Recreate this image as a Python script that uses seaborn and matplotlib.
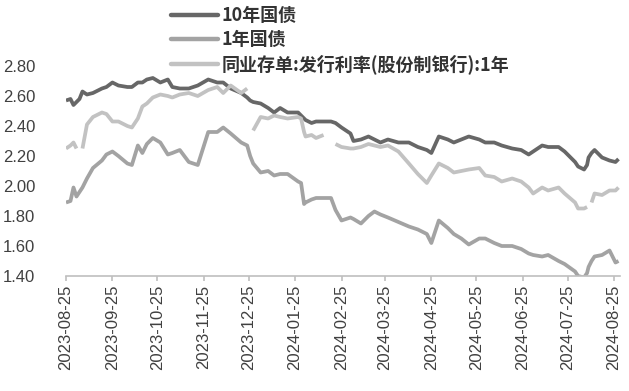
import numpy as np
import pandas as pd
import matplotlib
matplotlib.use("Agg")
import matplotlib.pyplot as plt
from matplotlib.lines import Line2D
import seaborn as sns

dates = [
    "2023-08-25", "2023-08-28", "2023-08-30", "2023-09-01", "2023-09-03", "2023-09-05",
    "2023-09-08", "2023-09-12", "2023-09-18", "2023-09-21", "2023-09-25", "2023-09-29",
    "2023-10-05", "2023-10-08", "2023-10-12", "2023-10-15", "2023-10-18", "2023-10-22",
    "2023-10-27", "2023-11-01", "2023-11-04", "2023-11-09", "2023-11-15", "2023-11-21",
    "2023-11-28", "2023-12-04", "2023-12-08", "2023-12-13", "2023-12-20", "2023-12-24",
    "2023-12-26", "2023-12-28", "2024-01-02", "2024-01-07", "2024-01-11", "2024-01-15",
    "2024-01-20", "2024-01-27", "2024-01-29", "2024-01-31", "2024-02-01", "2024-02-05",
    "2024-02-08", "2024-02-13", "2024-02-18", "2024-02-21", "2024-02-25", "2024-03-02",
    "2024-03-04", "2024-03-09", "2024-03-14", "2024-03-18", "2024-03-22", "2024-03-27",
    "2024-04-03", "2024-04-10", "2024-04-16", "2024-04-22", "2024-04-25", "2024-04-30",
    "2024-05-06", "2024-05-10", "2024-05-15", "2024-05-20", "2024-05-27", "2024-05-31",
    "2024-06-06", "2024-06-11", "2024-06-18", "2024-06-24", "2024-06-29", "2024-07-02",
    "2024-07-08", "2024-07-12", "2024-07-19", "2024-07-23", "2024-07-30", "2024-08-01",
    "2024-08-05", "2024-08-07", "2024-08-08", "2024-08-10", "2024-08-12", "2024-08-17",
    "2024-08-22", "2024-08-26", "2024-08-28",
]

gov_10y = [
    2.57, 2.58, 2.54, 2.56, 2.58, 2.63,
    2.61, 2.62, 2.65, 2.66, 2.69, 2.67,
    2.66, 2.66, 2.69, 2.69, 2.71, 2.72,
    2.69, 2.71, 2.66, 2.65, 2.65, 2.67,
    2.71, 2.69, 2.69, 2.65, 2.62, 2.59,
    2.57, 2.56, 2.55, 2.52, 2.49, 2.52,
    2.49, 2.49, 2.47, 2.45, 2.44, 2.42,
    2.43, 2.43, 2.43, 2.42, 2.39, 2.35,
    2.30, 2.31, 2.33, 2.31, 2.29, 2.31,
    2.29, 2.29, 2.26, 2.24, 2.22, 2.33,
    2.31, 2.29, 2.31, 2.33, 2.31, 2.29,
    2.29, 2.27, 2.25, 2.24, 2.21, 2.23,
    2.27, 2.26, 2.26, 2.23, 2.16, 2.13,
    2.11, 2.14, 2.19, 2.22, 2.24, 2.19,
    2.17, 2.16, 2.18,
]

gov_1y = [
    1.89, 1.90, 1.99, 1.93, 1.96, 1.99,
    2.05, 2.12, 2.17, 2.21, 2.23, 2.20,
    2.15, 2.14, 2.27, 2.22, 2.28, 2.32,
    2.29, 2.21, 2.22, 2.24, 2.16, 2.14,
    2.36, 2.36, 2.39, 2.35, 2.29, 2.27,
    2.20, 2.15, 2.09, 2.10, 2.07, 2.08,
    2.08, 2.03, 2.02, 1.88, 1.89, 1.91,
    1.92, 1.92, 1.92, 1.84, 1.77, 1.79,
    1.78, 1.75, 1.80, 1.83, 1.81, 1.79,
    1.76, 1.73, 1.71, 1.68, 1.62, 1.77,
    1.72, 1.68, 1.65, 1.61, 1.65, 1.65,
    1.62, 1.60, 1.60, 1.58, 1.55, 1.54,
    1.53, 1.54, 1.50, 1.48, 1.43, 1.40,
    1.39, 1.42, 1.46, 1.50, 1.53, 1.54,
    1.57, 1.49, 1.50,
]

ncd_1y = [
    2.25, 2.27, 2.29, 2.25, np.nan, 2.25,
    2.41, 2.46, 2.49, 2.48, 2.43, 2.43,
    2.40, 2.39, 2.45, 2.53, 2.55, 2.59,
    2.61, 2.60, 2.59, 2.61, 2.62, 2.60,
    2.64, 2.66, 2.62, 2.67, 2.62, 2.65,
    np.nan, 2.37, 2.46, 2.45, 2.47, 2.46,
    2.45, 2.46, 2.45, 2.36, 2.33, 2.34,
    2.32, 2.34, np.nan, 2.28, 2.26, 2.25,
    2.25, 2.26, 2.28, 2.27, 2.26, 2.27,
    2.23, 2.15, 2.08, 2.02, 2.07, 2.15,
    2.12, 2.09, 2.10, 2.11, 2.12, 2.07,
    2.06, 2.03, 2.05, 2.03, 1.99, 1.95,
    1.99, 1.97, 1.99, 1.95, 1.89, 1.85,
    1.85, 1.86, np.nan, 1.89, 1.95, 1.94,
    1.97, 1.97, 1.99,
]

series_names = ["10年国债", "1年国债", "同业存单:发行利率(股份制银行):1年"]
series_colors = ["#676767", "#a3a3a3", "#c2c2c2"]
tick_dates = [
    "2023-08-25", "2023-09-25", "2023-10-25", "2023-11-25", "2023-12-25",
    "2024-01-25", "2024-02-25", "2024-03-25", "2024-04-25", "2024-05-25",
    "2024-06-25", "2024-07-25", "2024-08-25",
]
y_ticks = [1.40, 1.60, 1.80, 2.00, 2.20, 2.40, 2.60, 2.80]

# build long-form data, splitting lines at gaps
frames = []
for name, vals in zip(series_names, [gov_10y, gov_1y, ncd_1y]):
    d = pd.DataFrame({"date": pd.to_datetime(dates), "value": vals})
    d["series"] = name
    seg = d["value"].isna().cumsum()
    d["unit"] = name + "_" + seg.astype(str)
    frames.append(d.dropna())
df = pd.concat(frames, ignore_index=True)

sns.set_theme(style="white")
plt.rcParams["font.family"] = ["Liberation Sans", "Noto Sans CJK SC", "DejaVu Sans"]

fig = plt.figure(figsize=(6.29, 3.91), dpi=100)
ax = fig.add_axes([66 / 629, 1 - 276 / 391, (620 - 66) / 629, (276 - 66) / 391])

sns.lineplot(
    data=df, x="date", y="value", hue="series", units="unit", estimator=None,
    hue_order=series_names, palette=series_colors, linewidth=2.7,
    legend=False, ax=ax, solid_joinstyle="round", solid_capstyle="butt",
)

ax.set_xlim(pd.Timestamp("2023-08-25"), pd.Timestamp("2024-08-29"))
ax.set_ylim(1.40, 2.80)
ax.set_yticks(y_ticks)
ax.set_yticklabels([f"{v:.2f}" for v in y_ticks])
ax.set_xticks(pd.to_datetime(tick_dates))
ax.set_xticklabels(tick_dates, rotation=90)
ax.set_xlabel("")
ax.set_ylabel("")

for s in ["top", "right", "left"]:
    ax.spines[s].set_visible(False)
ax.spines["bottom"].set_color("#bfbfbf")
ax.spines["bottom"].set_linewidth(1.2)
ax.tick_params(axis="x", bottom=True, length=3.6, width=1.2, color="#bfbfbf",
               pad=2.5, labelsize=12, labelcolor="#404040")
ax.tick_params(axis="y", left=False, pad=16, labelsize=12, labelcolor="#404040")
ax.grid(False)

handles = [Line2D([0], [0], color=c, lw=3.2) for c in series_colors]
fig.legend(
    handles, series_names, loc="upper left", bbox_to_anchor=(171 / 629, 1 - 6 / 391),
    frameon=False, handlelength=2.6, handletextpad=0.2, labelspacing=0.28,
    borderaxespad=0, borderpad=0,
    prop={"family": ["Noto Sans CJK SC", "DejaVu Sans"], "weight": "bold", "size": 13},
    labelcolor="#333333",
)

fig.savefig("out.png", dpi=100)
